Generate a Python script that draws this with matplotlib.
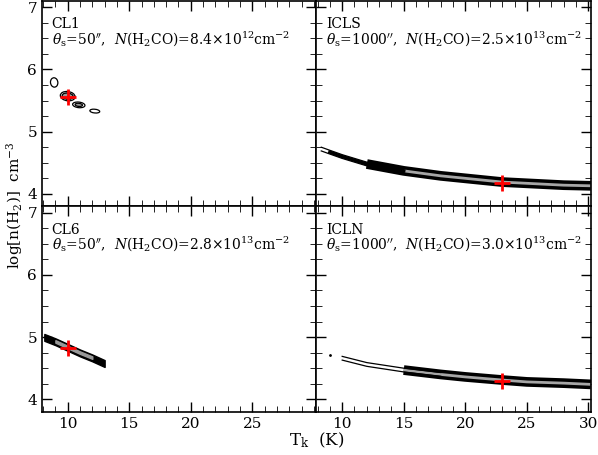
import matplotlib
matplotlib.use('Agg')
import matplotlib.pyplot as plt
from matplotlib.patches import Ellipse
from matplotlib.ticker import MultipleLocator, FixedLocator

plt.rcParams['font.family'] = ['DejaVu Serif']
plt.rcParams['mathtext.fontset'] = 'dejavuserif'

names = ['CL1', 'ICLS', 'CL6', 'ICLN']
sizes = ['50', '1000', '50', '1000']
coldens = ['8.4', '2.5', '2.8', '3.0']
exps = ['12', '13', '13', '13']
best_T = [10.0, 23.0, 10.0, 23.0]
best_n = [5.55, 4.18, 4.82, 4.30]

# band centre lines (Tk, log n)
icls_T = [8.3, 9.0, 10.0, 12.0, 15.0, 18.0, 20.0, 23.0, 25.0, 28.0, 30.2]
icls_n = [4.72, 4.67, 4.60, 4.48, 4.37, 4.29, 4.25, 4.19, 4.17, 4.14, 4.13]
icln_T = [10.0, 12.0, 15.0, 18.0, 20.0, 23.0, 25.0, 28.0, 30.2]
icln_n = [4.66, 4.56, 4.47, 4.40, 4.36, 4.31, 4.28, 4.26, 4.24]
cl6_T = [8.1, 9.0, 10.0, 11.0, 12.0, 13.0]
cl6_n = [5.00, 4.93, 4.84, 4.75, 4.67, 4.58]
# CL1 small contour islands: centre T, centre n, width, height
cl1_T = [8.9, 10.0, 10.0, 10.9, 12.2]
cl1_n = [5.79, 5.57, 5.57, 5.43, 5.33]
cl1_w = [0.6, 1.2, 0.8, 1.0, 0.8]
cl1_h = [0.15, 0.15, 0.09, 0.09, 0.06]

fig, axes = plt.subplots(2, 2, figsize=(5.98, 4.55), dpi=100, sharey=True)
fig.subplots_adjust(left=0.07, right=0.988, top=0.998, bottom=0.095, wspace=0, hspace=0)

for i, ax in enumerate(axes.flat):
    ax.set_xlim(7.9, 30.2)
    ax.set_ylim(3.8, 7.1)
    if i % 2 == 0:
        ax.xaxis.set_major_locator(FixedLocator([10, 15, 20, 25]))
    else:
        ax.xaxis.set_major_locator(MultipleLocator(5))
    ax.xaxis.set_minor_locator(MultipleLocator(1))
    ax.yaxis.set_major_locator(MultipleLocator(1))
    ax.yaxis.set_minor_locator(MultipleLocator(0.25))
    ax.tick_params(which='both', direction='in', top=True, right=True, labelsize=11)
    ax.tick_params(which='major', length=7, width=1)
    ax.tick_params(which='minor', length=4)
    if i < 2:
        ax.tick_params(labelbottom=False)
    for s in ax.spines.values():
        s.set_linewidth(1.2)
    ax.text(8.7, 6.66, names[i], fontsize=10)
    ax.text(8.7, 6.40, r'$\theta_{\rm s}$=' + sizes[i] + r'$^{\prime\prime}$,  $N$(H$_2$CO)='
            + coldens[i] + r'$\times$10$^{' + exps[i] + r'}$cm$^{-2}$', fontsize=10)

ax = axes[0, 0]
for t, n, w, h in zip(cl1_T, cl1_n, cl1_w, cl1_h):
    ax.add_patch(Ellipse((t, n), w, h, angle=-1, fill=False, ec='black', lw=0.9))
ax.add_patch(Ellipse((cl1_T[1], cl1_n[1]), 0.9, 0.1, angle=-1, fc='0.6', ec='black', lw=0.9))
ax.add_patch(Ellipse((cl1_T[3], cl1_n[3]), 0.6, 0.05, angle=-1, fc='0.6', ec='black', lw=0.9))

ax = axes[0, 1]
ax.plot(icls_T[3:], icls_n[3:], color='black', lw=7, solid_capstyle='butt')
ax.plot(icls_T[4:], icls_n[4:], color='0.65', lw=2, solid_capstyle='butt')
ax.plot(icls_T[:5], [v + 0.03 for v in icls_n[:5]], color='black', lw=0.9)
ax.plot(icls_T[:5], [v - 0.03 for v in icls_n[:5]], color='black', lw=0.9)
ax.plot(icls_T[1:5], icls_n[1:5], color='black', lw=2.5)

ax = axes[1, 0]
ax.fill_between(cl6_T, [v + 0.05 for v in cl6_n], [v - 0.06 for v in cl6_n], color='black')
ax.fill_between(cl6_T[1:-1], [v + 0.02 for v in cl6_n[1:-1]], [v - 0.02 for v in cl6_n[1:-1]], color='0.6')

ax = axes[1, 1]
ax.plot(icln_T[2:], icln_n[2:], color='black', lw=7, solid_capstyle='butt')
ax.plot(icln_T[2:], icln_n[2:], color='0.65', lw=2, solid_capstyle='butt')
ax.plot(icln_T[:4], [v + 0.03 for v in icln_n[:4]], color='black', lw=0.9)
ax.plot(icln_T[:4], [v - 0.03 for v in icln_n[:4]], color='black', lw=0.9)
ax.plot([9.0], [4.72], 'k.', ms=2)

for i, ax in enumerate(axes.flat):
    ax.plot(best_T[i], best_n[i], marker='+', color='red', ms=12, mew=2)

fig.text(0.024, 0.55, r'log[n(H$_2$)]  cm$^{-3}$', rotation=90, va='center', ha='center', fontsize=11)
fig.text(0.53, 0.012, r'T$_{\rm k}$  (K)', ha='center', va='bottom', fontsize=12)

fig.savefig('out.png', dpi=100)
